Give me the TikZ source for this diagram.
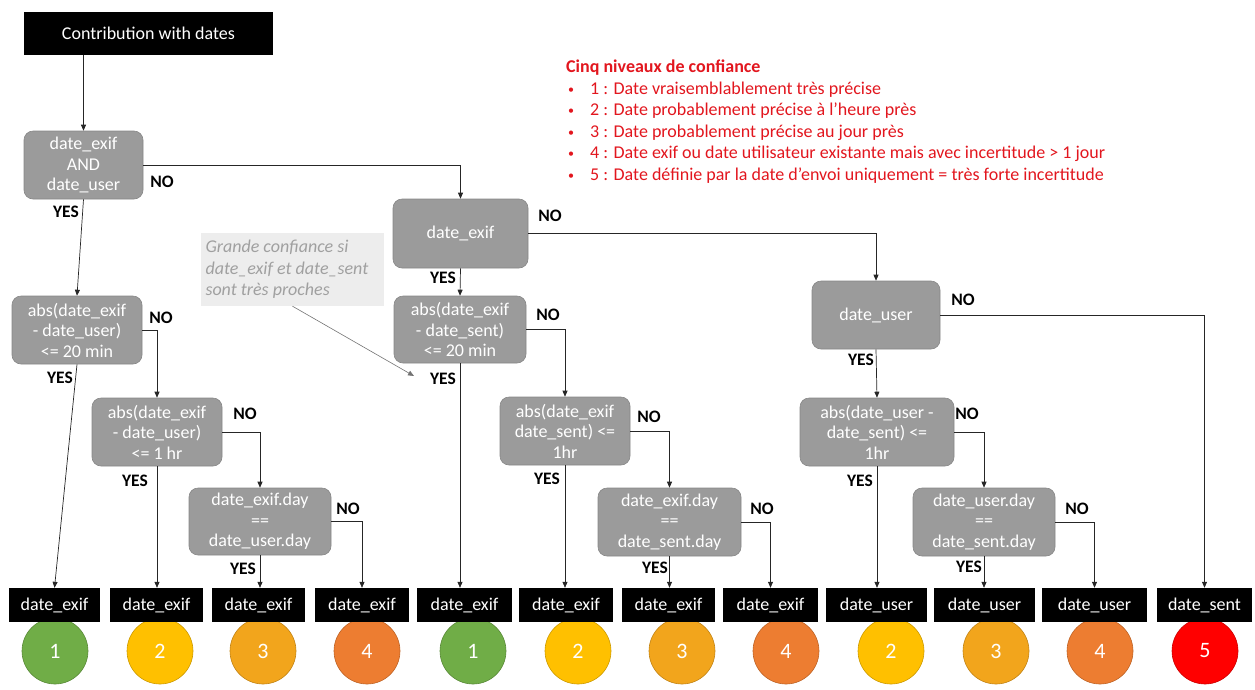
\documentclass[tikz,border=0pt]{standalone}
\usepackage{fontspec}
\setmainfont{Carlito}
\usetikzlibrary{arrows.meta,calc}

\definecolor{boxgray}{RGB}{155,155,155}
\definecolor{boxedge}{RGB}{135,135,135}
\definecolor{notegray}{RGB}{237,237,237}
\definecolor{notetext}{RGB}{160,160,160}
\definecolor{legendred}{RGB}{226,22,30}
\definecolor{lvlone}{RGB}{112,173,71}
\definecolor{lvltwo}{RGB}{255,192,0}
\definecolor{lvlthree}{RGB}{242,165,28}
\definecolor{lvlfour}{RGB}{237,125,49}
\definecolor{lvlfive}{RGB}{255,0,0}

% small bullet for the legend list
\newcommand{\lgbullet}{\makebox[24pt][l]{\hspace{2pt}\raisebox{1pt}{\fontsize{12}{12}\selectfont\textbullet}}}

\tikzset{
  dec/.style={rounded corners=9pt, fill=boxgray, draw=boxedge, line width=0.6pt,
    text=white, align=center, inner sep=0pt,
    font=\fontsize{18}{20.5}\selectfont},
  leaf/.style={fill=black, text=white, inner sep=0pt, minimum height=34pt,
    font=\fontsize{18}{20}\selectfont},
  startbox/.style={fill=black, text=white, inner sep=0pt,
    font=\fontsize{18}{20}\selectfont},
  lvl/.style={circle, draw=#1!80!black, fill=#1, line width=0.6pt,
    minimum size=66pt, inner sep=0pt, text=white,
    font=\fontsize{22}{24}\selectfont},
  lbl/.style={font=\bfseries\fontsize{17.5}{20}\selectfont, inner sep=0pt},
  arr/.style={draw=black!85, line width=0.7pt, -{Triangle[length=6pt,width=5pt]}},
  notearr/.style={draw=black!55, line width=0.6pt, -{Triangle[length=6pt,width=5pt]}},
}

\begin{document}
\begin{tikzpicture}[x=1pt,y=-1pt]
\useasboundingbox (0,0) rectangle (1255,689);

% start
\node[startbox, minimum width=249pt, minimum height=43pt] (start) at (148.5,33.5) {Contribution with dates};

% left branch: both dates present
\node[dec, minimum width=119pt, minimum height=68pt] (D1) at (83.5,165) {date\_exif\\AND\\date\_user};
\node[dec, minimum width=130pt, minimum height=68pt] (D2) at (77,330) {abs(date\_exif\\- date\_user)\\<= 20 min};
\node[dec, minimum width=130pt, minimum height=68pt] (D3) at (157,432) {abs(date\_exif\\- date\_user)\\<= 1 hr};
\node[dec, minimum width=142pt, minimum height=67pt] (D4) at (260,521.5) {date\_exif.day\\==\\date\_user.day};

% middle branch: exif date only
\node[dec, minimum width=135pt, minimum height=69pt] (E1) at (460.5,233.5) {date\_exif};
\node[dec, minimum width=132pt, minimum height=67pt] (E2) at (460,329.5) {abs(date\_exif\\- date\_sent)\\<= 20 min};
\node[dec, minimum width=130pt, minimum height=68pt] (E3) at (565,431) {abs(date\_exif\\date\_sent) <=\\1hr};
\node[dec, minimum width=143pt, minimum height=68pt] (E4) at (669.5,522) {date\_exif.day\\==\\date\_sent.day};

% right branch: user date only
\node[dec, minimum width=128pt, minimum height=68pt] (U1) at (876,315) {date\_user};
\node[dec, minimum width=154pt, minimum height=68pt] (U2) at (877,432) {abs(date\_user -\\date\_sent) <=\\1hr};
\node[dec, minimum width=142pt, minimum height=68pt] (U3) at (984,522) {date\_user.day\\==\\date\_sent.day};

% confidence levels (drawn first so the result boxes overlap them)
\node[lvl=lvlone]   (C1)  at (55,651)   {1};
\node[lvl=lvltwo]   (C2)  at (160,651)  {2};
\node[lvl=lvlthree] (C3)  at (263,651)  {3};
\node[lvl=lvlfour]  (C4)  at (367,651)  {4};
\node[lvl=lvlone]   (C5)  at (473,651)  {1};
\node[lvl=lvltwo]   (C6)  at (578,651)  {2};
\node[lvl=lvlthree] (C7)  at (682,651)  {3};
\node[lvl=lvlfour]  (C8)  at (786,651)  {4};
\node[lvl=lvltwo]   (C9)  at (891,651)  {2};
\node[lvl=lvlthree] (C10) at (996,651)  {3};
\node[lvl=lvlfour]  (C11) at (1100,651) {4};
\node[lvl=lvlfive]  (C12) at (1205,651) {5};

% resulting date sources
\node[leaf, minimum width=91pt]  (L1)  at (54.5,605)  {date\_exif};
\node[leaf, minimum width=93pt]  (L2)  at (156.5,605) {date\_exif};
\node[leaf, minimum width=93pt]  (L3)  at (258.5,605) {date\_exif};
\node[leaf, minimum width=94pt]  (L4)  at (362,605)   {date\_exif};
\node[leaf, minimum width=95pt]  (L5)  at (464.5,605) {date\_exif};
\node[leaf, minimum width=94pt]  (L6)  at (566,605)   {date\_exif};
\node[leaf, minimum width=93pt]  (L7)  at (668.5,605) {date\_exif};
\node[leaf, minimum width=95pt]  (L8)  at (770.5,605) {date\_exif};
\node[leaf, minimum width=101pt] (L9)  at (876.5,605) {date\_user};
\node[leaf, minimum width=101pt] (L10) at (984.5,605) {date\_user};
\node[leaf, minimum width=105pt] (L11) at (1094.5,605) {date\_user};
\node[leaf, minimum width=95pt]  (L12) at (1204.5,605) {date\_sent};

% connectors
\draw[arr] (D1.north |- start.south) -- (D1.north);
\draw[arr] (D1.east) -| (E1.north);
\draw[arr] (D1.south) -- (D2.north);
\draw[arr] (D2.east) -| (D3.north);
\draw[arr] (D2.south) -- (L1.north);
\draw[arr] (D3.east) -| (D4.north);
\draw[arr] (D3.south) -- (D3.south |- L2.north);
\draw[arr] (D4.south) -- (D4.south |- L3.north);
\draw[arr] (D4.east) -| (L4.north);

\draw[arr] (E1.east) -| (U1.north);
\draw[arr] (E1.south) -- (E2.north);
\draw[arr] (E2.east) -| (E3.north);
\draw[arr] (E2.south) -- (E2.south |- L5.north);
\draw[arr] (E3.east) -| (E4.north);
\draw[arr] (E3.south) -- (E3.south |- L6.north);
\draw[arr] (E4.south) -- (E4.south |- L7.north);
\draw[arr] (E4.east) -| (L8.north);

\draw[arr] (U1.east) -| (L12.north);
\draw[arr] (U1.south) -- (U2.north);
\draw[arr] (U2.east) -| (U3.north);
\draw[arr] (U2.south) -- (U2.south |- L9.north);
\draw[arr] (U3.south) -- (U3.south |- L10.north);
\draw[arr] (U3.east) -| (L11.north);

% branch labels
\node[lbl] (nD1) at (162,182) {NO};
\node[lbl] (yD1) at (66,212)  {YES};
\node[lbl] (nD2) at (161,318) {NO};
\node[lbl] (yD2) at (60,378)  {YES};
\node[lbl] (nD3) at (245,414) {NO};
\node[lbl] (yD3) at (135,481) {YES};
\node[lbl] (nD4) at (348,509) {NO};
\node[lbl] (yD4) at (243,569) {YES};

\node[lbl] (nE1) at (550,216) {NO};
\node[lbl] (yE1) at (443,278) {YES};
\node[lbl] (nE2) at (548,315) {NO};
\node[lbl] (yE2) at (443,379) {YES};
\node[lbl] (nE3) at (649,417) {NO};
\node[lbl] (yE3) at (547,479) {YES};
\node[lbl] (nE4) at (762,509) {NO};
\node[lbl] (yE4) at (655,568) {YES};

\node[lbl] (nU1) at (963,300)  {NO};
\node[lbl] (yU1) at (861,360)  {YES};
\node[lbl] (nU2) at (967,414)  {NO};
\node[lbl] (yU2) at (860,481)  {YES};
\node[lbl] (nU3) at (1077,509) {NO};
\node[lbl] (yU3) at (969,567)  {YES};

% side note
\node[fill=notegray, text=notetext, minimum width=183pt, minimum height=73pt,
  inner sep=0pt, align=left, font=\itshape\fontsize{18}{21.5}\selectfont]
  (note) at (292.5,269.5)
  {\parbox{174pt}{Grande confiance si\\date\_exif et date\_sent\\sont très proches}};
\coordinate (notetip) at (414,376);
\draw[notearr] (note.south) -- (notetip);

% legend
\node[anchor=north west, text=legendred, inner sep=0pt, align=left,
  font=\fontsize{18}{21.5}\selectfont] (legend) at (566,60)
  {\textbf{Cinq niveaux de confiance}\\
   \lgbullet 1 : Date vraisemblablement très précise\\
   \lgbullet 2 : Date probablement précise à l’heure près\\
   \lgbullet 3 : Date probablement précise au jour près\\
   \lgbullet 4 : Date exif ou date utilisateur existante mais avec incertitude > 1 jour\\
   \lgbullet 5 : Date définie par la date d’envoi uniquement = très forte incertitude};
\end{tikzpicture}
\end{document}
